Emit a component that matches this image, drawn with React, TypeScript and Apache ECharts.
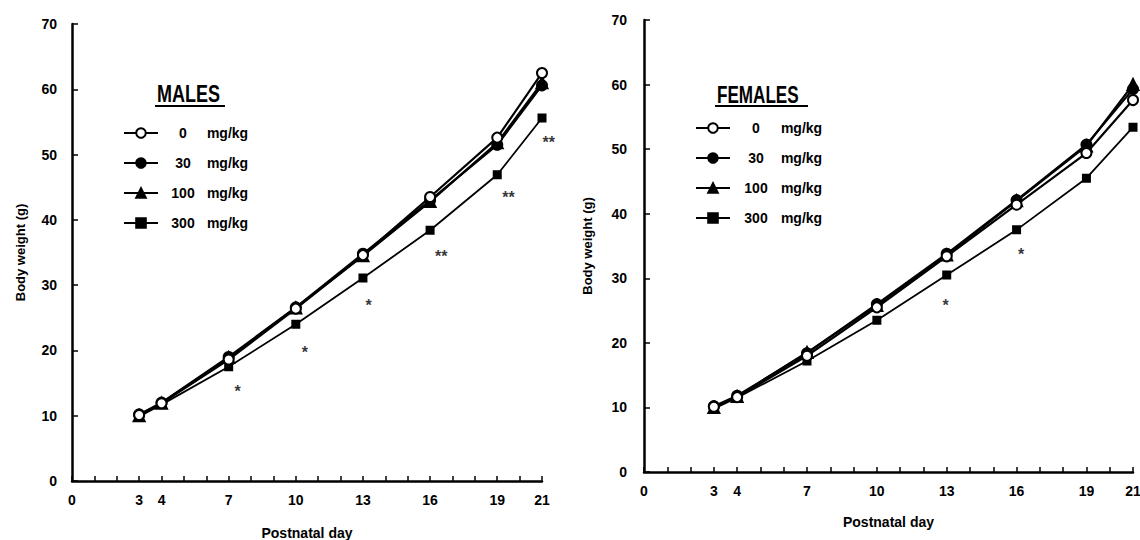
import React, { useEffect, useRef } from "react";
import * as echarts from "echarts";

// ---- data ----
const days = [3, 4, 7, 10, 13, 16, 19, 21];
const xTickLabels = [0, 3, 4, 7, 10, 13, 16, 19, 21];
const doseNames = ["0 mg/kg", "30 mg/kg", "100 mg/kg", "300 mg/kg"];

const males0 = [10.1, 11.9, 18.6, 26.4, 34.6, 43.5, 52.6, 62.5];
const males30 = [10.2, 12.0, 19.0, 26.6, 34.8, 43.0, 51.5, 60.6];
const males100 = [10.0, 11.9, 18.9, 26.5, 34.5, 42.8, 51.8, 61.0];
const males300 = [9.9, 11.7, 17.5, 24.0, 31.1, 38.4, 46.9, 55.6];

const females0 = [10.1, 11.6, 18.0, 25.5, 33.4, 41.4, 49.4, 57.6];
const females30 = [10.2, 11.8, 18.4, 26.0, 33.8, 42.1, 50.7, 59.3];
const females100 = [10.0, 11.7, 18.5, 25.8, 33.6, 42.0, 50.5, 60.0];
const females300 = [9.8, 11.5, 17.2, 23.5, 30.5, 37.5, 45.5, 53.4];

// significance marks: [day, weight, mark]
const maleStars: [number, number, string][] = [
  [7.4, 14.5, "*"],
  [10.4, 20.5, "*"],
  [13.25, 27.6, "*"],
  [16.5, 35.2, "**"],
  [19.5, 44.2, "**"],
  [21.3, 52.6, "**"],
];
const femaleStars: [number, number, string][] = [
  [12.95, 26.5, "*"],
  [16.2, 34.5, "*"],
];

const FONT = "'Liberation Sans', Arial, sans-serif";

const symbolFor = ["circle", "circle", "triangle", "rect"];
const sizeFor = [10, 10, 11, 7];
const fillFor = ["#fff", "#000", "#000", "#000"];
const widthFor = [2.2, 2.2, 2.2, 1.8];

function buildOption() {
  const grids = [
    { left: 72, top: 24, width: 470, height: 457, containLabel: false, outerBoundsMode: "none" },
    { left: 644, top: 20, width: 489, height: 452, containLabel: false, outerBoundsMode: "none" },
  ];
  const xAxes = [0, 1].map((i) => ({
    type: "value",
    gridIndex: i,
    min: 0,
    max: 21,
    interval: 1,
    axisLine: { show: true, lineStyle: { color: "#000", width: 2.5 } },
    axisTick: { inside: true, length: 5, lineStyle: { color: "#000", width: 1.5 } },
    splitLine: { show: false },
    axisLabel: {
      formatter: (v: number) => (xTickLabels.includes(v) ? String(v) : ""),
      color: "#000",
      fontWeight: "bold",
      fontSize: 14,
      fontFamily: FONT,
      margin: 12,
      showMinLabel: true,
      showMaxLabel: true,
    },
    name: "Postnatal day",
    nameLocation: "middle",
    nameGap: i === 0 ? 45 : 43,
    nameTextStyle: { color: "#000", fontSize: 14, fontWeight: "bold", fontFamily: FONT },
  }));
  const yAxes = [0, 1].map((i) => ({
    type: "value",
    gridIndex: i,
    min: 0,
    max: 70,
    interval: 10,
    axisLine: { show: true, lineStyle: { color: "#000", width: 2.5 } },
    axisTick: { inside: true, length: 6, lineStyle: { color: "#000", width: 1.5 } },
    splitLine: { show: false },
    axisLabel: {
      color: "#000",
      fontWeight: "bold",
      fontSize: 14,
      fontFamily: FONT,
      margin: i === 0 ? 15 : 17,
    },
    name: "Body weight (g)",
    nameLocation: "middle",
    nameGap: i === 0 ? 45 : 50,
    nameTextStyle: { color: "#000", fontSize: 13, fontWeight: "bold", fontFamily: FONT },
  }));

  const maleSets = [males0, males30, males100, males300];
  const femaleSets = [females0, females30, females100, females300];
  const series: any[] = [];
  [maleSets, femaleSets].forEach((sets, gi) => {
    [3, 2, 1, 0].forEach((k) => {
      series.push({
        type: "line",
        name: doseNames[k],
        xAxisIndex: gi,
        yAxisIndex: gi,
        data: days.map((d, j) => [d, sets[k][j]]),
        symbol: symbolFor[k],
        symbolSize: sizeFor[k],
        showAllSymbol: true,
        lineStyle: { color: "#000", width: widthFor[k] },
        itemStyle: { color: fillFor[k], borderColor: "#000", borderWidth: 2 },
        z: 3 + (3 - k),
      });
    });
  });
  [maleStars, femaleStars].forEach((stars, gi) => {
    series.push({
      type: "scatter",
      name: gi === 0 ? "male-sig" : "female-sig",
      xAxisIndex: gi,
      yAxisIndex: gi,
      clip: false,
      symbolSize: 1,
      itemStyle: { color: "rgba(0,0,0,0)" },
      data: stars.map((s) => ({ value: [s[0], s[1]], mark: s[2] })),
      label: {
        show: true,
        position: "inside",
        offset: [0, 5],
        formatter: (p: any) => p.data.mark,
        color: "#000",
        textBorderWidth: 0,
        textBorderColor: "transparent",
        fontSize: 16,
        fontWeight: "bold",
        fontFamily: FONT,
      },
      silent: true,
    });
  });

  const legendBase = (left: number, top: number, nw: number) => ({
    orient: "vertical",
    left,
    top,
    itemWidth: 34,
    itemHeight: 12,
    itemGap: 16,
    selectedMode: false,
    data: doseNames,
    formatter: (name: string) => {
      const n = name.split(" ")[0];
      return `{n|${n}} {u|mg/kg}`;
    },
    textStyle: {
      color: "#000",
      fontFamily: FONT,
      fontWeight: "bold",
      fontSize: 14,
      rich: {
        n: { width: nw, align: "right", fontSize: 14, fontWeight: "bold", fontFamily: FONT, color: "#000" },
        u: { fontSize: 14, fontWeight: "bold", fontFamily: FONT, color: "#000" },
      },
    },
  });

  return {
    animation: false,
    backgroundColor: "#fff",
    grid: grids,
    xAxis: xAxes,
    yAxis: yAxes,
    legend: [legendBase(118, 121, 40), legendBase(690, 116, 42)],
    series,
    graphic: [
      {
        type: "text",
        x: 157,
        y: 106,
        scaleY: 1.35,
        style: { text: "MALES", fontSize: 18, fontWeight: "bold", fontFamily: FONT, fill: "#000", verticalAlign: "bottom" },
      },
      { type: "line", shape: { x1: 155, y1: 106, x2: 225, y2: 106 }, style: { stroke: "#000", lineWidth: 2 } },
      {
        type: "text",
        x: 717,
        y: 106,
        scaleY: 1.35,
        scaleX: 0.95,
        style: { text: "FEMALES", fontSize: 18, fontWeight: "bold", fontFamily: FONT, fill: "#000", verticalAlign: "bottom" },
      },
      { type: "line", shape: { x1: 715, y1: 106, x2: 808, y2: 106 }, style: { stroke: "#000", lineWidth: 2 } },
    ],
  };
}

export default function App() {
  const ref = useRef<HTMLDivElement>(null);
  useEffect(() => {
    document.body.style.margin = "0";
    if (!ref.current) return;
    const chart = echarts.init(ref.current, undefined, { renderer: "svg" });
    chart.setOption(buildOption() as any);
    return () => chart.dispose();
  }, []);
  return <div ref={ref} style={{ width: 1140, height: 540 }} />;
}
